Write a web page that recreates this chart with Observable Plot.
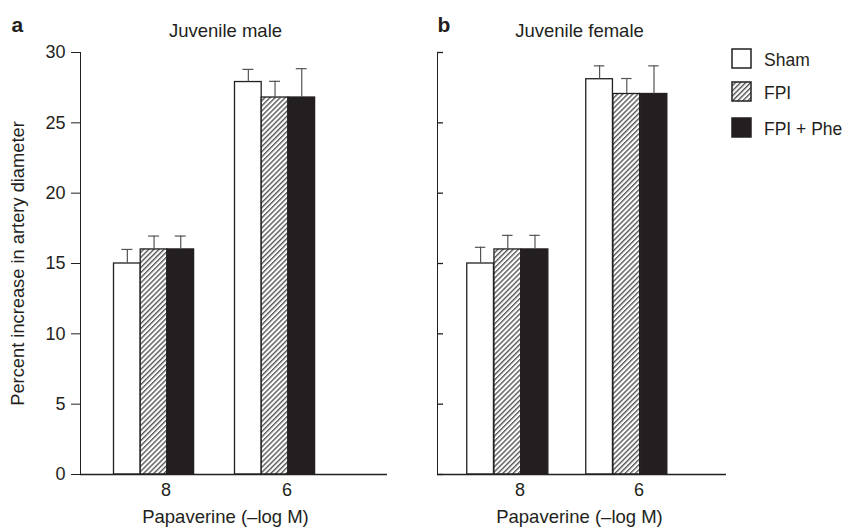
<!DOCTYPE html>
<html><head><meta charset="utf-8">
<script src="https://cdn.jsdelivr.net/npm/d3@7"></script>
<script src="https://cdn.jsdelivr.net/npm/@observablehq/plot@0.6"></script>
<style>
body{margin:0;background:#fff;}
#wrap{position:relative;width:845px;height:527px;font-family:"Liberation Sans",Arial,sans-serif;color:#231f20;overflow:hidden;}
#wrap svg.panel{position:absolute;top:0;}
.leg{position:absolute;left:731px;display:flex;align-items:center;gap:12px;font-size:17.5px;height:21px;}
.leg span{position:relative;top:2px;}
</style></head><body>
<svg width="0" height="0" style="position:absolute"><defs>
<pattern id="hatch" patternUnits="userSpaceOnUse" width="3.6" height="3.6" patternTransform="rotate(45)">
<rect width="3.6" height="3.6" fill="#fff"/><line x1="0.7" y1="0" x2="0.7" y2="3.6" stroke="#555" stroke-width="1.4"/>
</pattern></defs></svg>
<div id="wrap"></div>
<script>
const concentrations = ["8", "6"];
const seriesNames = ["Sham", "FPI", "FPI + Phe"];
const yTicks = [0, 5, 10, 15, 20, 25, 30];
const yLabel = "Percent increase in artery diameter";
const xLabel = "Papaverine (\u2013log M)";

const maleSham = [15.0, 27.9];
const maleFPI = [16.0, 26.8];
const malePhe = [16.0, 26.8];
const maleShamSE = [1.0, 0.9];
const maleFPISE = [0.95, 1.15];
const malePheSE = [0.95, 2.05];

const femaleSham = [15.0, 28.1];
const femaleFPI = [16.0, 27.05];
const femalePhe = [16.0, 27.05];
const femaleShamSE = [1.15, 0.95];
const femaleFPISE = [1.0, 1.1];
const femalePheSE = [1.0, 2.0];

const fills = ["#ffffff", "url(#hatch)", "#231f20"];
const ink = "#231f20";

function rowsFor(means, ses) {
  const rows = [];
  means.forEach((m, j) => m.forEach((v, i) => rows.push({conc: concentrations[i], s: j, value: v, se: ses[j][i]})));
  return rows;
}

function panel(cfg) {
  const rows = rowsFor(cfg.means, cfg.ses);
  const step = (cfg.range[1] - cfg.range[0]) / concentrations.length;
  const frameW = cfg.width - cfg.marginLeft - cfg.marginRight;
  const marks = [];
  for (let j = 0; j < 3; j++) {
    const d = rows.filter(r => r.s === j);
    const left = cfg.barStart + cfg.bw * j;
    const off = left + cfg.bw / 2;
    marks.push(Plot.barY(d, {x: "conc", y: "value", fill: fills[j], stroke: ink, strokeWidth: 1.3,
      insetLeft: step / 2 + left, insetRight: step / 2 - left - cfg.bw}));
    marks.push(Plot.ruleX(d, {x: "conc", y1: "value", y2: r => r.value + r.se, dx: off, stroke: "#555", strokeWidth: 1.2}));
    marks.push(Plot.tickY(d, {x: "conc", y: r => r.value + r.se, insetLeft: step / 2 + off - 5.5, insetRight: step / 2 - off - 5.5, stroke: "#555", strokeWidth: 1.2}));
  }
  marks.push(Plot.ruleY([0], {stroke: ink, strokeWidth: 1.4}));
  if (cfg.inwardTicks) marks.push(Plot.tickY(yTicks, {y: d => d, insetRight: frameW - 6, stroke: ink, strokeWidth: 1.3}));
  const mid = {lineAnchor: "middle", fill: ink};
  marks.push(Plot.text([cfg.title], {...mid, text: d => d, frameAnchor: "top", textAnchor: "middle", dx: cfg.centerDx, dy: -21, fontSize: 18.5}));
  marks.push(Plot.text([xLabel], {...mid, text: d => d, frameAnchor: "bottom", textAnchor: "middle", dx: cfg.centerDx, dy: 43, fontSize: 18.5}));
  marks.push(Plot.text([cfg.letter], {...mid, text: d => d, frameAnchor: "top-left", textAnchor: "start", dx: cfg.letterDx, dy: -27, fontSize: 21, fontWeight: "bold"}));
  if (cfg.yLabel) marks.push(Plot.text([yLabel], {...mid, text: d => d, frameAnchor: "left", textAnchor: "middle", dx: -62, rotate: -90, fontSize: 18.3}));
  const svg = Plot.plot({
    width: cfg.width, height: 527,
    marginLeft: cfg.marginLeft, marginRight: cfg.marginRight, marginTop: 52, marginBottom: 53,
    style: {fontFamily: '"Liberation Sans", Arial, sans-serif', fontSize: "18px", color: ink, background: "transparent", overflow: "visible"},
    x: {domain: concentrations, range: cfg.range, padding: 0, tickSize: 0, tickPadding: 9, label: null},
    y: {domain: [0, 30], ticks: yTicks, line: true, label: null,
        tickSize: cfg.yLabels ? 9 : 0, tickPadding: 6, tickFormat: cfg.yLabels ? d => d : () => ""},
    marks
  });
  svg.classList.add("panel");
  svg.style.left = cfg.left + "px";
  return svg;
}

const wrap = document.getElementById("wrap");
wrap.appendChild(panel({
  left: 0, width: 400, marginLeft: 80, marginRight: 13, range: [104.5, 346.5],
  barStart: -52, bw: 26.7, means: [maleSham, maleFPI, malePhe], ses: [maleShamSE, maleFPISE, malePheSE],
  title: "Juvenile male", letter: "a", letterDx: -69, centerDx: -8.5, yLabels: true, yLabel: true
}));
wrap.appendChild(panel({
  left: 400, width: 330, marginLeft: 37, marginRight: 4, range: [59.25, 298.25],
  barStart: -53, bw: 27.2, means: [femaleSham, femaleFPI, femalePhe], ses: [femaleShamSE, femaleFPISE, femalePheSE],
  title: "Juvenile female", letter: "b", letterDx: 0, centerDx: -2.5, yLabels: false, inwardTicks: true
}));

const legTops = [48, 81, 117];
seriesNames.forEach((name, j) => {
  const div = document.createElement("div");
  div.className = "leg";
  div.style.top = legTops[j] + "px";
  div.innerHTML = `<svg width="21" height="21"><rect x="1" y="1" width="19" height="19" fill="${fills[j]}" stroke="${ink}" stroke-width="1.5"/></svg><span>${name}</span>`;
  wrap.appendChild(div);
});
</script>
</body></html>
